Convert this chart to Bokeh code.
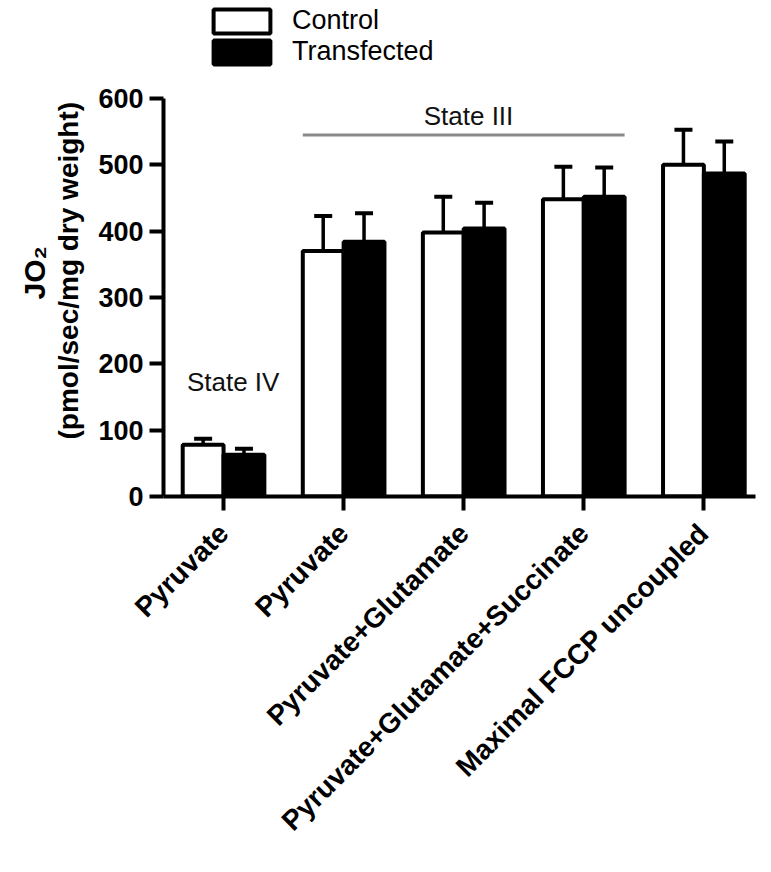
import math
from bokeh.plotting import figure
from bokeh.layouts import column
from bokeh.models import (ColumnDataSource, Range1d, FixedTicker, Whisker, TeeHead,
                          Legend, LegendItem, Label, Title)
from bokeh.embed import file_html
from bokeh.resources import INLINE

# ---- data ----
categories = ["Pyruvate", "Pyruvate", "Pyruvate+Glutamate",
              "Pyruvate+Glutamate+Succinate", "Maximal FCCP uncoupled"]
control_mean = [78, 370, 398, 448, 500]
control_err = [9, 53, 54, 49, 53]
transfected_mean = [63, 384, 404, 452, 487]
transfected_err = [9, 43, 39, 44, 48]
series_names = ["Control", "Transfected"]
series_fill = ["white", "black"]
y_ticks = [0, 100, 200, 300, 400, 500, 600]
state_labels = ["State IV", "State III"]
y_title = ["JO₂", "(pmol/sec/mg dry weight)"]

FONT = "Liberation Sans"
W = 767
bar_w = 0.34
idx = list(range(len(categories)))
x_ctrl = [i - bar_w / 2 for i in idx]
x_tran = [i + bar_w / 2 for i in idx]

src_c = ColumnDataSource(dict(x=x_ctrl, top=control_mean,
                              upper=[m + e for m, e in zip(control_mean, control_err)]))
src_t = ColumnDataSource(dict(x=x_tran, top=transfected_mean,
                              upper=[m + e for m, e in zip(transfected_mean, transfected_err)]))

# ---------- legend strip (its own small figure so nothing is clipped) ----------
pl = figure(width=W, height=75, output_backend="svg", toolbar_location=None,
            x_range=Range1d(-0.5, 4.43), y_range=Range1d(0, 600),
            x_axis_location=None, y_axis_location=None, min_border=0)
pl.outline_line_color = None
pl.xgrid.visible = False
pl.ygrid.visible = False
leg_r = [pl.vbar(x="x", top="top", width=bar_w, source=s, fill_color=f,
                 line_color="black", line_width=4, visible=False)
         for s, f in zip((src_c, src_t), series_fill)]
legend = Legend(items=[LegendItem(label=n, renderers=[r]) for n, r in zip(series_names, leg_r)],
                location=(43, 8), glyph_width=71, glyph_height=30, spacing=0,
                padding=0, margin=0, label_standoff=15, border_line_color=None,
                background_fill_alpha=0, label_text_font=FONT,
                label_text_color="black", inactive_fill_alpha=0,
                label_text_font_size="27px", label_height=30)
pl.add_layout(legend)

# ---------- main chart ----------
p = figure(width=W, height=781, output_backend="svg", toolbar_location=None,
           x_range=Range1d(-0.5, 4.43), y_range=Range1d(0, 600),
           min_border_left=163, min_border_right=12, min_border_top=23,
           min_border_bottom=360)
p.outline_line_color = None
p.xgrid.visible = False
p.ygrid.visible = False

for src in (src_c, src_t):
    w = Whisker(source=src, base="x", lower="top", upper="upper", dimension="height",
                line_width=3.5, line_color="black",
                upper_head=TeeHead(size=18, line_width=4, line_color="black"),
                lower_head=None)
    p.add_layout(w)

r_c = p.vbar(x="x", top="top", width=bar_w, bottom=0, source=src_c,
             fill_color=series_fill[0], line_color="black", line_width=4)
r_t = p.vbar(x="x", top="top", width=bar_w, bottom=0, source=src_t,
             fill_color=series_fill[1], line_color="black", line_width=4)

p.line(x=[1 - bar_w, 3 + bar_w], y=[545, 545], line_color="#8a8a8a", line_width=3)
p.add_layout(Label(x=2.04, y=573, text=state_labels[1], text_align="center",
                   text_baseline="middle", text_font=FONT, text_font_size="26px",
                   text_color="#111111"))
p.add_layout(Label(x=0.08, y=172, text=state_labels[0], text_align="center",
                   text_baseline="middle", text_font=FONT, text_font_size="26px",
                   text_color="#111111"))

for ax in (p.xaxis[0], p.yaxis[0]):
    ax.axis_line_width = 4
    ax.major_tick_line_width = 4
    ax.major_tick_in = 0
    ax.major_tick_out = 14
    ax.minor_tick_line_color = None
    ax.major_label_text_font = FONT
    ax.major_label_text_font_style = "bold"
    ax.major_label_text_color = "black"

p.yaxis.ticker = FixedTicker(ticks=y_ticks)
p.yaxis.major_label_text_font_size = "27px"
p.yaxis.major_label_standoff = 6

p.xaxis.ticker = FixedTicker(ticks=idx)
p.xaxis.major_label_overrides = {i: c for i, c in zip(idx, categories)}
p.xaxis.major_label_orientation = math.pi / 4
p.xaxis.major_label_text_font_size = "28px"
p.xaxis.major_label_standoff = 18

p.add_layout(Title(text=y_title[1], align="left", offset=57, text_font=FONT,
                   text_font_style="bold", text_font_size="28px", text_color="black",
                   standoff=24), "left")
p.add_layout(Title(text=y_title[0], align="left", offset=197, text_font=FONT,
                   text_font_style="bold", text_font_size="30px", text_color="black",
                   standoff=-24), "left")

layout = column(pl, p, spacing=0)
open("out.html", "w").write(file_html(layout, INLINE))
